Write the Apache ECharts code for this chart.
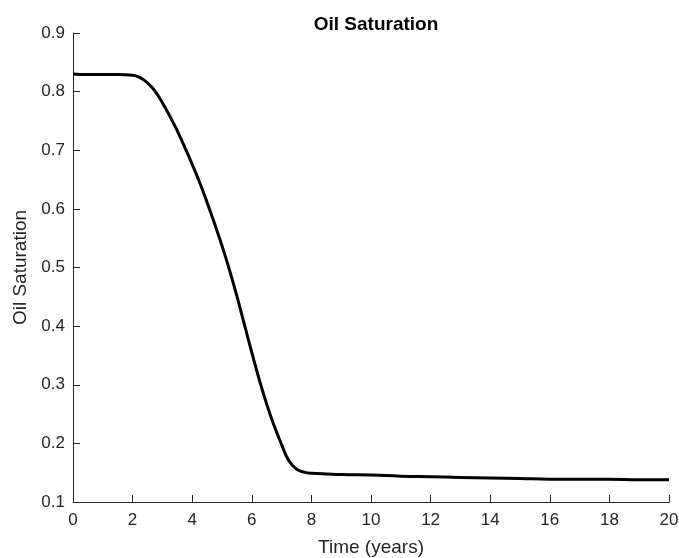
<!DOCTYPE html>
<html><head><meta charset="utf-8">
<script src="https://cdn.jsdelivr.net/npm/echarts@6/dist/echarts.min.js"></script>
<style>html,body{margin:0;padding:0;background:#fff}#c{width:679px;height:558px}</style>
</head><body><div id="c"></div>
<script>
const timeYears = [0,0.5,1,1.5,2,2.25,2.5,2.75,3,3.25,3.5,3.75,4,4.25,4.5,4.75,5,5.25,5.5,5.75,6,6.25,6.5,6.75,7,7.25,7.5,7.75,8,9,10,11,12,13,14,15,16,17,18,19,20];
const oilSat = [0.830,0.829,0.829,0.829,0.828,0.824,0.815,0.801,0.781,0.758,0.733,0.705,0.676,0.645,0.611,0.575,0.537,0.496,0.451,0.403,0.355,0.309,0.267,0.230,0.198,0.170,0.156,0.151,0.149,0.147,0.146,0.144,0.143,0.142,0.141,0.140,0.139,0.139,0.139,0.138,0.138];
const xTicks = [0,2,4,6,8,10,12,14,16,18,20];
const yTicks = [0.1,0.2,0.3,0.4,0.5,0.6,0.7,0.8,0.9];

const font = 'Liberation Sans, Arial, Helvetica, sans-serif';
const axisCol = '#262626';
const chart = echarts.init(document.getElementById('c'), null, {renderer:'canvas'});
chart.setOption({
  animation:false,
  title:{text:'Oil Saturation', left:371, top:10, textAlign:'center',
    textStyle:{fontFamily:font, fontSize:19, fontWeight:'bold', color:'#000'}},
  grid:{left:73, right:10, top:33, bottom:56, containLabel:false, outerBoundsMode:'none'},
  xAxis:{type:'value', min:0, max:20, interval:2,
    name:'Time (years)', nameLocation:'middle', nameGap:36,
    nameTextStyle:{fontFamily:font, fontSize:19, color:axisCol},
    axisLine:{show:true, onZero:false, lineStyle:{color:axisCol, width:1}},
    axisTick:{show:true, inside:true, length:7, lineStyle:{color:axisCol}},
    axisLabel:{fontFamily:font, fontSize:17, color:axisCol, margin:10,
      formatter:v=>xTicks.includes(v)?String(v):''},
    splitLine:{show:false}},
  yAxis:{type:'value', min:0.1, max:0.9, interval:0.1,
    name:'Oil Saturation', nameLocation:'middle', nameGap:41, nameRotate:90,
    nameTextStyle:{fontFamily:font, fontSize:19, color:axisCol},
    axisLine:{show:true, onZero:false, lineStyle:{color:axisCol, width:1}},
    axisTick:{show:true, inside:true, length:7, lineStyle:{color:axisCol}},
    axisLabel:{fontFamily:font, fontSize:17, color:axisCol, margin:8,
      formatter:v=>{const r=Math.round(v*10)/10; return yTicks.includes(r)?r.toFixed(1):'';}},
    splitLine:{show:false}},
  series:[{type:'line', data:timeYears.map((t,i)=>[t,oilSat[i]]),
    showSymbol:false, smooth:0.5, lineStyle:{color:'#000', width:3}}]
});
</script></body></html>
